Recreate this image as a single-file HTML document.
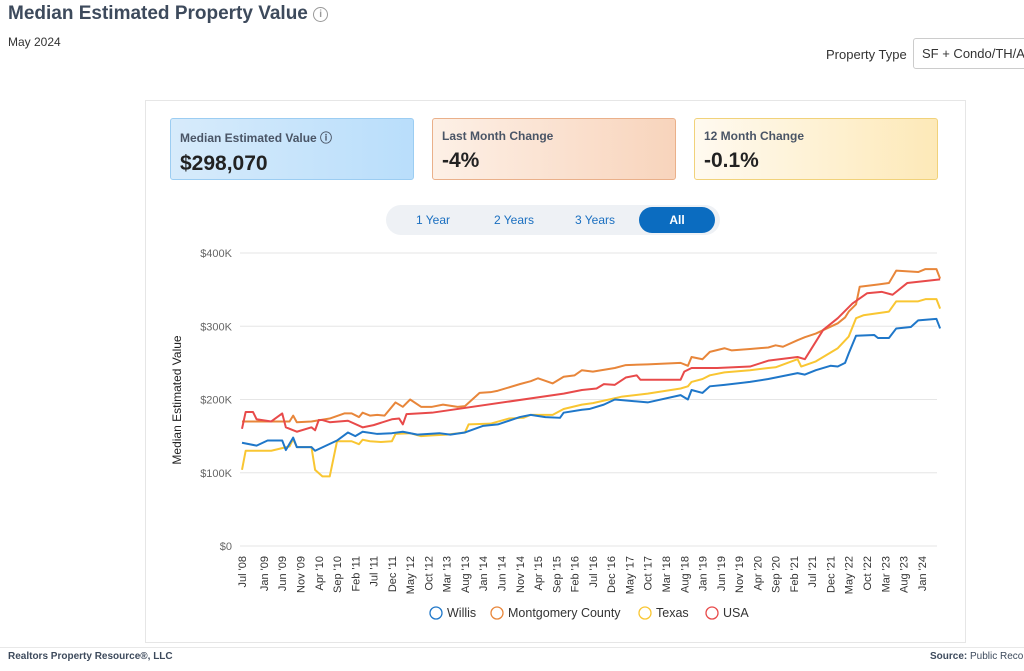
<!DOCTYPE html>
<html><head><meta charset="utf-8">
<style>
body{margin:0;width:1024px;height:671px;overflow:hidden;background:#fff;font-family:"Liberation Sans",sans-serif;position:relative;color:#333}
.abs{position:absolute}
.kpi{position:absolute;top:118px;height:62px;width:244px;border-radius:3px;box-sizing:border-box;padding:10px 9px}
.kpi .l{font-size:12px;font-weight:bold;color:#4a5566}
.kpi .v{font-size:21px;font-weight:bold;color:#222;margin-top:6px}
.tab{position:absolute;top:207px;height:26px;line-height:26px;font-size:12px;color:#1a6fc0;text-align:center;width:76px}
</style></head><body>
<div class="abs" style="left:8px;top:3px;font-size:19px;font-weight:bold;color:#3d4a5c">Median Estimated Property Value <span style="display:inline-block;width:13px;height:13px;border:1.5px solid #999;border-radius:50%;font-size:10px;line-height:13px;text-align:center;color:#999;vertical-align:2px">i</span></div>
<div class="abs" style="left:8px;top:35px;font-size:12px;color:#333">May 2024</div>
<div class="abs" style="left:826px;top:47px;font-size:13px;color:#333">Property Type</div>
<div class="abs" style="left:913px;top:38px;width:120px;height:31px;border:1px solid #ccc;border-radius:3px;box-sizing:border-box;font-size:13px;line-height:29px;padding-left:8px;white-space:nowrap;overflow:hidden">SF + Condo/TH/A</div>
<div class="abs" style="left:145px;top:100px;width:821px;height:543px;border:1px solid #e6e6e6;box-sizing:border-box"></div>
<div class="kpi" style="left:170px;background:linear-gradient(90deg,#d7ebfb,#b9defb);border:1px solid #9ccdf2"><div class="l">Median Estimated Value ⓘ</div><div class="v">$298,070</div></div>
<div class="kpi" style="left:432px;background:linear-gradient(90deg,#fdf0e6,#f8d4bc);border:1px solid #eab08a"><div class="l">Last Month Change</div><div class="v">-4%</div></div>
<div class="kpi" style="left:694px;background:linear-gradient(90deg,#fffaf0,#fde9b8);border:1px solid #f1d27a"><div class="l">12 Month Change</div><div class="v">-0.1%</div></div>
<div class="abs" style="left:386px;top:205px;width:334px;height:30px;background:#eef1f5;border-radius:15px"></div>
<div class="tab" style="left:395px">1 Year</div>
<div class="tab" style="left:476px">2 Years</div>
<div class="tab" style="left:557px">3 Years</div>
<div class="tab" style="left:639px;background:#0b6cc0;color:#fff;border-radius:13px;font-weight:bold">All</div>
<svg id="chart" class="abs" style="left:0;top:0" width="1024" height="671"></svg>
<div class="abs" style="left:0;top:647px;width:1024px;height:1px;background:#e8e8e8"></div>
<div class="abs" style="left:8px;top:651px;font-size:10px;font-weight:bold;color:#3d4a5c">Realtors Property Resource®, LLC</div>
<div class="abs" style="left:930px;top:651px;font-size:10px;color:#3d4a5c;white-space:nowrap"><b>Source:</b> Public Records</div>
<script>
const yTicks=[0,100,200,300,400];
const xLabels=["Jul '08","Jan '09","Jun '09","Nov '09","Apr '10","Sep '10","Feb '11","Jul '11","Dec '11","May '12","Oct '12","Mar '13","Aug '13","Jan '14","Jun '14","Nov '14","Apr '15","Sep '15","Feb '16","Jul '16","Dec '16","May '17","Oct '17","Mar '18","Aug '18","Jan '19","Jun '19","Nov '19","Apr '20","Sep '20","Feb '21","Jul '21","Dec '21","May '22","Oct '22","Mar '23","Aug '23","Jan '24"];
const xLabelMonths=[0,6,11,16,21,26,31,36,41,46,51,56,61,66,71,76,81,86,91,96,101,106,111,116,121,126,131,136,141,146,151,156,161,166,171,176,181,186];
const seriesNames=["Willis","Montgomery County","Texas","USA"];
const willisM=[0,4,7,11,12,14,15,19,20,26,29,31,33,37,41,44,48,54,57,61,66,70,76,79,83,87,88,93,95,99,102,111,120,122,123,126,128,132,139,144,152,154,157,161,163,165,166,168,173,174,177,179,183,185,190,191];
const willisV=[141,137,144,144,131,148,135,135,130,144,155,150,156,153,154,156,152,154,152,155,164,166,176,179,176,175,182,186,187,193,200,196,206,200,213,209,218,220,224,228,236,234,240,246,245,250,263,287,288,284,284,297,299,308,310,297];
const montM=[0,6,10,13,14,15,19,24,28,30,32,33,35,37,39,42,44,46,49,52,55,59,61,65,68,70,76,79,81,85,88,91,93,96,102,105,111,120,122,123,126,128,132,134,139,144,146,148,152,154,157,163,165,166,168,169,174,177,179,185,187,190,191];
const montV=[170,170,170,170,178,169,170,174,181,181,176,182,178,179,178,196,190,200,190,190,193,190,191,209,210,212,221,225,229,222,231,233,240,238,243,247,248,250,246,258,255,265,270,267,269,271,274,272,281,285,290,304,312,320,330,354,357,359,376,374,378,378,365];
const texasM=[0,1,8,13,14,15,19,20,22,24,26,30,32,33,35,38,41,42,46,49,52,56,61,62,68,73,77,79,85,88,93,96,104,111,120,122,123,126,128,132,139,144,146,152,153,157,163,166,168,170,177,179,185,187,190,191];
const texasV=[104,130,130,136,146,135,135,104,95,95,143,143,139,145,143,142,143,153,154,150,151,152,155,166,167,174,175,179,179,187,193,195,204,208,215,218,224,228,233,237,240,243,244,255,245,252,270,286,311,315,320,334,334,337,337,324];
const usaM=[0,1,3,4,8,11,12,15,19,20,21,22,24,29,33,36,41,43,44,45,52,88,93,97,99,102,105,108,109,120,121,123,130,139,144,152,154,159,163,167,171,175,178,182,191];
const usaV=[160,183,183,173,170,181,162,156,162,158,172,172,169,171,162,165,173,174,166,180,182,208,213,215,221,220,230,233,227,227,238,243,243,245,253,258,255,295,311,331,345,347,343,359,364];
const svg=document.getElementById('chart');
const NS='http://www.w3.org/2000/svg';
const x0=242,mw=3.655,yBase=546,py=0.7325;
function xs(m){return x0+m*mw;}
function ys(v){return yBase-v*py;}
function mk(t,a){const e=document.createElementNS(NS,t);for(const k in a)e.setAttribute(k,a[k]);svg.appendChild(e);return e;}
yTicks.forEach(v=>{
 const g=mk('line',{x1:240,x2:937,y1:ys(v),y2:ys(v),stroke:'#e6e6e6','stroke-width':1});
 
 
 const t=mk('text',{x:232,y:ys(v)+4,'text-anchor':'end','font-size':11,fill:'#666','font-family':'Liberation Sans, sans-serif'});
 t.textContent=v===0?'$0':'$'+v+'K';
 
 
});
const yt=mk('text',{x:181,y:400,'text-anchor':'middle','font-size':12,fill:'#222',transform:'rotate(-90 181 400)','font-family':'Liberation Sans, sans-serif'});
yt.textContent='Median Estimated Value';


xLabels.forEach((l,i)=>{
 const x=xs(xLabelMonths[i])+4,y=556;
 const t=mk('text',{x:x,y:y,'text-anchor':'end','font-size':11,fill:'#333',transform:`rotate(-90 ${x} ${y})`,'font-family':'Liberation Sans, sans-serif'});
 t.textContent=l;
 
 
});
const colors=['#1f77c9','#e8863a','#f9c632','#e84a4a'];
const data=[[willisM,willisV],[montM,montV],[texasM,texasV],[usaM,usaV]];
[1,3,2,0].forEach(i=>{
 const [M,V]=data[i];
 const p=mk('polyline',{points:M.map((m,j)=>xs(m)+','+ys(V[j])).join(' '),fill:'none',stroke:colors[i],'stroke-width':2,'stroke-linejoin':'round'});
 
 
});
const lx=[436,497,645,712];
seriesNames.forEach((n,i)=>{
 const c=mk('circle',{cx:lx[i],cy:613,r:6,fill:'none',stroke:colors[i],'stroke-width':1.3});
 
 
 const t=mk('text',{x:lx[i]+11,y:617,'font-size':12.5,fill:'#333','font-family':'Liberation Sans, sans-serif'});
 t.textContent=n;
 
 
});
</script>
</body></html>
